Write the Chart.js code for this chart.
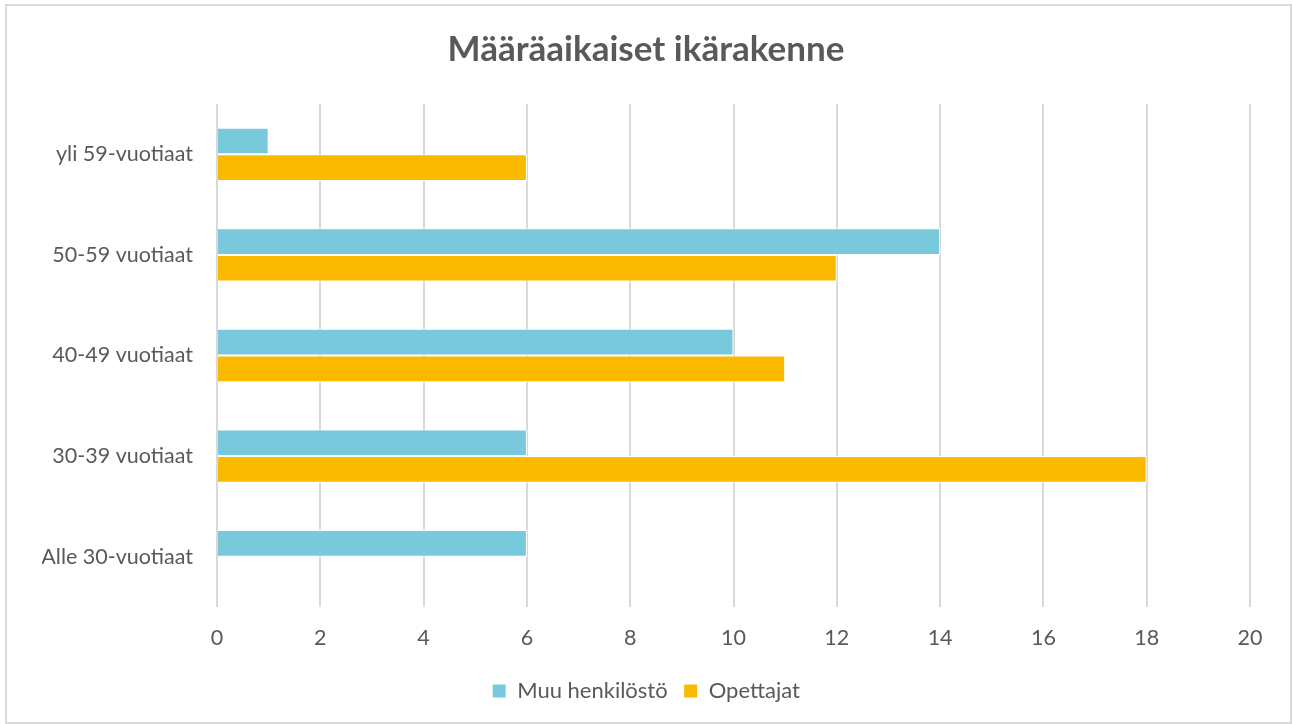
<!DOCTYPE html>
<html>
<head>
<meta charset="utf-8">
<script src="https://cdn.jsdelivr.net/npm/chart.js@4"></script>
<style>
  html, body { margin: 0; padding: 0; background: #fff; }
  #wrap { position: relative; width: 1292px; height: 724px; }
  #frame { position: absolute; left: 5px; top: 4px; width: 1283px; height: 716px; border: 2px solid #d9d9d9; pointer-events: none; }
</style>
</head>
<body>
<div id="wrap">
  <canvas id="ageChart" width="1292" height="724"></canvas>
  <div id="frame"></div>
</div>
<script>
const ageGroups = ['yli 59-vuotiaat', '50-59 vuotiaat', '40-49 vuotiaat', '30-39 vuotiaat', 'Alle 30-vuotiaat'];
const muuHenkilosto = [1, 14, 10, 6, 6];
const opettajat = [6, 12, 11, 18, 0];
const xTicks = [0, 2, 4, 6, 8, 10, 12, 14, 16, 18, 20];

const textColor = '#595959';
const fontFamily = 'Lato, "Open Sans", sans-serif';

const ctx = document.getElementById('ageChart');

new Chart(ctx, {
    type: 'bar',
    data: {
        labels: ageGroups,
        datasets: [
            {
                label: 'Muu henkilöstö',
                data: muuHenkilosto,
                backgroundColor: '#78C9DB',
                borderColor: '#ffffff',
                borderWidth: 1,
                borderSkipped: 'left'
            },
            {
                label: 'Opettajat',
                data: opettajat,
                backgroundColor: '#FBBA00',
                borderColor: '#ffffff',
                borderWidth: 1,
                borderSkipped: 'left'
            }
        ]
    },
    options: {
        indexAxis: 'y',
        responsive: false,
        animation: false,
        categoryPercentage: 0.53,
        barPercentage: 1.0,
        layout: {
            // symmetric sides so title and legend stay centred on the canvas
            padding: { left: 42, right: 42, top: 0, bottom: 12 }
        },
        plugins: {
            title: {
                display: true,
                text: 'Määräaikaiset ikärakenne',
                color: textColor,
                font: { family: fontFamily, size: 35, weight: 'bold' },
                padding: { top: 29, bottom: 33 }
            },
            legend: {
                position: 'bottom',
                labels: {
                    color: textColor,
                    font: { family: fontFamily, size: 22 },
                    boxWidth: 14,
                    boxHeight: 14,
                    padding: 16
                }
            },
            tooltip: { enabled: false }
        },
        scales: {
            x: {
                min: 0,
                max: 20,
                afterBuildTicks: function (scale) {
                    scale.ticks = xTicks.map(function (v) { return { value: v }; });
                },
                afterFit: function (scale) {
                    scale.height = 57;
                },
                grid: { color: '#d9d9d9', lineWidth: 2, drawTicks: false },
                border: { display: false },
                ticks: {
                    color: textColor,
                    font: { family: fontFamily, size: 21.5 },
                    padding: 18
                }
            },
            y: {
                afterFit: function (scale) {
                    scale.width = 175;
                },
                grid: { display: false, drawTicks: false },
                border: { display: false },
                ticks: {
                    color: textColor,
                    font: { family: fontFamily, size: 21.5 },
                    padding: 24
                }
            }
        }
    }
});
</script>
</body>
</html>
